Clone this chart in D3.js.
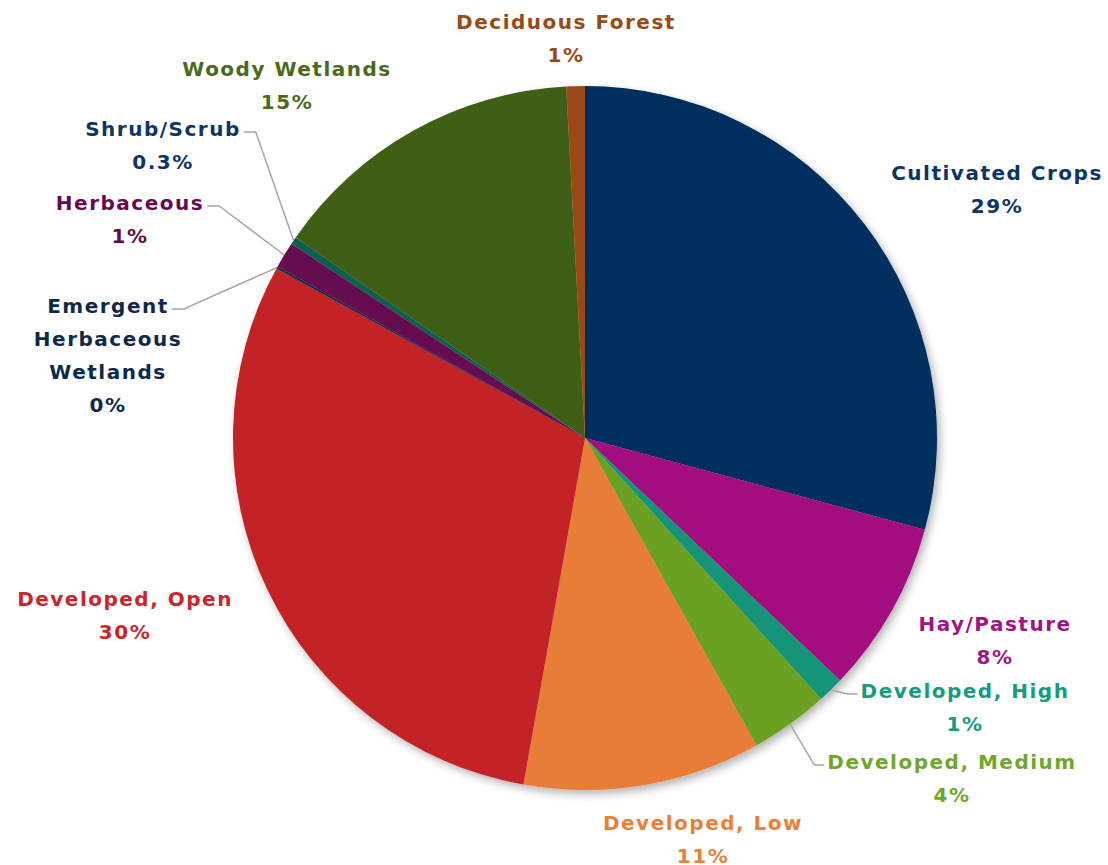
<!DOCTYPE html>
<html>
<head>
<meta charset="utf-8">
<script src="https://cdn.jsdelivr.net/npm/d3@7"></script>
<style>
  html, body { margin: 0; padding: 0; background: #fff; }
  svg { display: block; }
  text { font-family: "DejaVu Sans", sans-serif; font-size: 20px; font-weight: bold; letter-spacing: 1.5px; }
</style>
</head>
<body>
<script>
// slice data, clockwise from 12 o'clock
const categories = ["Cultivated Crops", "Hay/Pasture", "Developed, High", "Developed, Medium",
  "Developed, Low", "Developed, Open", "Emergent Herbaceous Wetlands", "Herbaceous",
  "Shrub/Scrub", "Woody Wetlands", "Deciduous Forest"];
const shares = [29.2, 7.9, 1.2, 3.6, 10.9, 30.2, 0.1, 1.2, 0.35, 14.5, 0.85];
const pctLabels = ["29%", "8%", "1%", "4%", "11%", "30%", "0%", "1%", "0.3%", "15%", "1%"];

const sliceColors = ["#052f5e", "#a30f7f", "#169479", "#6aa121", "#e87d37", "#c32125",
  "#0b2a4a", "#660a4f", "#0e5e4f", "#415f15", "#9a4a14"];
const textColors = ["#0b3566", "#a0157f", "#189a80", "#6ea82a", "#e8803a", "#c8262b",
  "#0b2a4a", "#660a4f", "#0e3566", "#4a6a1a", "#9a4a14"];

// label layout: centre x, first baseline y, and whether a leader line is drawn
const labelLayout = {
  "Cultivated Crops": { x: 997, y: 180 },
  "Hay/Pasture": { x: 995, y: 631 },
  "Developed, High": { x: 965, y: 698, leader: "left" },
  "Developed, Medium": { x: 952, y: 769, leader: "left" },
  "Developed, Low": { x: 703, y: 830 },
  "Developed, Open": { x: 125, y: 606 },
  "Emergent Herbaceous Wetlands": { x: 108, y: 313, leader: "right", lines: ["Emergent", "Herbaceous", "Wetlands"] },
  "Herbaceous": { x: 130, y: 210, leader: "right" },
  "Shrub/Scrub": { x: 163, y: 136, leader: "right" },
  "Woody Wetlands": { x: 287, y: 76 },
  "Deciduous Forest": { x: 566, y: 29 }
};

const width = 1108, height = 865;
const cx = 585, cy = 438, radius = 352;
const lineHeight = 33;

const data = categories.map((c, i) => ({ name: c, value: shares[i], pct: pctLabels[i], color: sliceColors[i], textColor: textColors[i] }));

const svg = d3.select('body').append('svg')
  .attr('width', width)
  .attr('height', height);

// soft drop shadow under the pie
const defs = svg.append('defs');
defs.append('filter')
  .attr('id', 'shadow')
  .attr('x', '-10%').attr('y', '-10%')
  .attr('width', '120%').attr('height', '120%')
  .append('feDropShadow')
  .attr('dx', 3).attr('dy', 4)
  .attr('stdDeviation', 4)
  .attr('flood-color', '#000')
  .attr('flood-opacity', 0.3);

const pie = d3.pie().sort(null).value(d => d.value);
const arc = d3.arc().innerRadius(0).outerRadius(radius);
const arcs = pie(data);

const g = svg.append('g').attr('transform', `translate(${cx},${cy})`);

g.append('g')
  .attr('filter', 'url(#shadow)')
  .selectAll('path')
  .data(arcs)
  .enter()
  .append('path')
  .attr('d', arc)
  .attr('fill', d => d.data.color);

// leader lines for the thin slices
arcs.forEach(d => {
  let lay = labelLayout[d.data.name];
  if (!lay.leader) return;
  let mid = (d.startAngle + d.endAngle) / 2;
  let px = cx + radius * Math.sin(mid);
  let py = cy - radius * Math.cos(mid);
  let lines = lay.lines || [d.data.name];
  let tw = measure(lines[0]);
  let sx, ex;
  if (lay.leader === "right") {
    sx = lay.x + tw / 2 + 3;
    ex = sx + 12;
  } else {
    sx = lay.x - tw / 2 - 3;
    ex = sx - 10;
  }
  let ly = lay.y - 4;
  svg.append('polyline')
    .attr('points', [[sx, ly], [ex, ly], [px, py]].map(p => p.join(',')).join(' '))
    .attr('fill', 'none')
    .attr('stroke', '#a6a6a6')
    .attr('stroke-width', 1.5);
});

// labels
data.forEach(d => {
  let lay = labelLayout[d.name];
  let lines = (lay.lines || [d.name]).concat([d.pct]);
  let t = svg.append('text')
    .attr('text-anchor', 'middle')
    .attr('fill', d.textColor);
  lines.forEach((s, i) => {
    t.append('tspan')
      .attr('x', lay.x)
      .attr('y', lay.y + i * lineHeight)
      .text(s);
  });
});

function measure(s) {
  let t = svg.append('text').text(s);
  let w = t.node().getComputedTextLength();
  t.remove();
  return w;
}
</script>
</body>
</html>
